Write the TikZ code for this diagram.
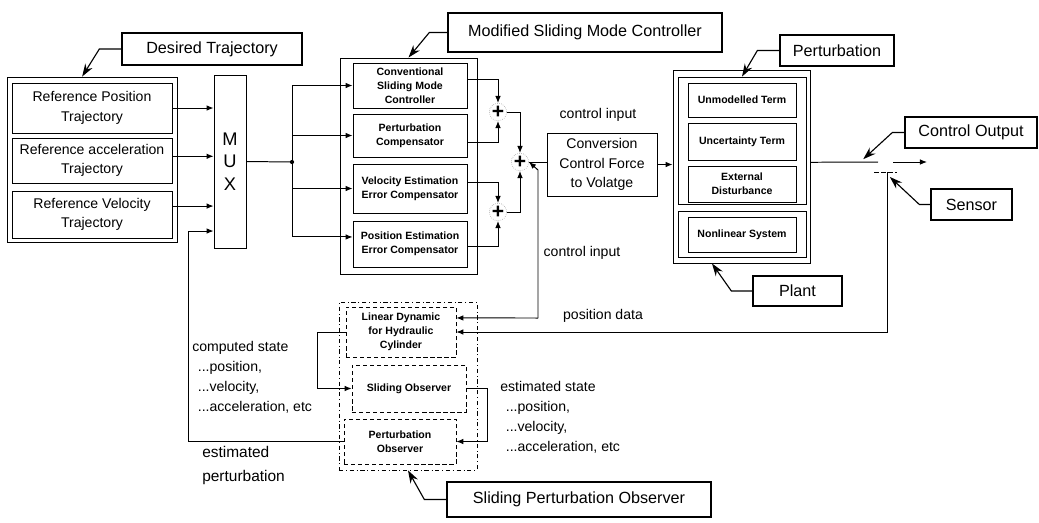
\documentclass[tikz,border=0pt]{standalone}
\usepackage{fontspec}
\setmainfont{Liberation Sans}
\usetikzlibrary{arrows.meta,positioning}

\tikzset{
  lbl/.style={draw, line width=0.9pt, inner sep=0pt, font=\fontsize{11.5}{13}\selectfont},
  blk/.style={draw, line width=0.6pt, inner sep=0pt, align=center, font=\fontsize{10}{13.9}\selectfont},
  sblk/.style={draw, line width=0.6pt, inner sep=0pt, align=center, font=\bfseries\fontsize{7.5}{10}\selectfont},
  grp/.style={draw, line width=0.6pt, inner sep=0pt},
  obs/.style={draw, densely dashed, line width=0.5pt, inner sep=0pt, align=center, font=\bfseries\fontsize{7.5}{10}\selectfont},
  sumc/.style={circle, draw=black!45, densely dotted, minimum size=0.36cm, inner sep=0pt, font=\bfseries\fontsize{15}{15}\selectfont},
  arr/.style={-{Latex[length=5pt,width=4pt]}, line width=0.7pt},
  callout/.style={-{Stealth[length=9pt,width=6pt]}, line width=0.8pt},
  txt/.style={inner sep=0pt, align=left, font=\fontsize{10}{14.2}\selectfont}
}

\begin{document}
\begin{tikzpicture}[x=0.025cm, y=-0.025cm]
  \useasboundingbox (0,0) rectangle (1039,522);

  % desired trajectory
  \node[grp, minimum width=4.25cm, minimum height=4.125cm] (refgrp) at (92,159.5) {};
  \node[blk, minimum width=4cm, minimum height=1.25cm] (refpos) at (92,108) {Reference Position\\Trajectory};
  \node[blk, minimum width=4cm, minimum height=1.125cm] (refacc) at (92,160.5) {Reference acceleration\\Trajectory};
  \node[blk, minimum width=4cm, minimum height=1.175cm] (refvel) at (92,214.5) {Reference Velocity\\Trajectory};
  \node[lbl, minimum width=4.5cm, minimum height=0.8cm] (dtlbl) at (212,49) {Desired Trajectory};
  \draw[callout] (dtlbl.west) -- ++(-22,0) -- ([xshift=-7pt]refgrp.north);

  \node[blk, minimum width=0.8cm, minimum height=4.325cm, font=\fontsize{13}{16}\selectfont] (mux) at (230,161.5) {M\\U\\X};
  \draw[arr] (refpos.east) -- (refpos.east -| mux.west);
  \draw[arr] ([yshift=3pt]refacc.east) -- ([yshift=3pt]refacc.east -| mux.west);
  \draw[arr] ([yshift=6pt]refvel.east) -- ([yshift=6pt]refvel.east -| mux.west);

  % modified sliding mode controller
  \node[grp, minimum width=3.425cm, minimum height=5.4cm] (smcgrp) at (408.5,166) {};
  \node[sblk, minimum width=2.85cm, minimum height=1.125cm] (convsmc) at (410,85.5) {Conventional\\Sliding Mode\\Controller};
  \node[sblk, minimum width=2.85cm, minimum height=1.075cm] (percomp) at (410,135.5) {Perturbation\\Compensator};
  \node[sblk, minimum width=2.85cm, minimum height=1.225cm] (velcomp) at (410,188.5) {Velocity Estimation\\Error Compensator};
  \node[sblk, minimum width=2.85cm, minimum height=1.15cm] (poscomp) at (410,244) {Position Estimation\\Error Compensator};
  \node[lbl, minimum width=6.85cm, minimum height=0.975cm] (smclbl) at (585,32.5) {Modified Sliding Mode Controller};
  \draw[callout] (smclbl.west) -- ++(-18,0) -- (smcgrp.north);

  \coordinate (split) at (292,162);
  \draw[line width=0.7pt] (mux.east) -- (split);
  \fill (split) circle (1.5pt);
  \draw[line width=0.7pt] (split |- convsmc.west) -- ([yshift=5pt]split |- poscomp.west);
  \foreach \b in {convsmc, percomp, velcomp}
    \draw[arr] (split |- \b.west) -- (\b.west);
  \draw[arr] ([yshift=5pt]split |- poscomp.west) -- ([yshift=5pt]poscomp.west);

  \node[sumc] (sum1) at (498,112) {+};
  \node[sumc] (sum2) at (520,162) {+};
  \node[sumc] (sum3) at (498,212) {+};
  \draw[arr] ([yshift=4pt]convsmc.east) -| (sum1.north);
  \draw[arr] ([yshift=-5pt]percomp.east) -| (sum1.south);
  \draw[arr] (sum1.east) -| (sum2.north);
  \draw[arr] ([yshift=4.5pt]velcomp.east) -| (sum3.north);
  \draw[arr] ([yshift=-2pt]poscomp.east) -| (sum3.south);
  \draw[arr] (sum3.east) -| (sum2.south);

  % conversion and plant
  \node[blk, minimum width=2.75cm, minimum height=1.575cm] (conv) at (602,164.5) {Conversion\\Control Force\\to Volatge};
  \draw[line width=0.7pt] (sum2.east) -- (sum2.east -| conv.west);
  \node[txt] (cinlbl) at (598,115) {control input};

  \node[grp, minimum width=3.425cm, minimum height=4.825cm] (plant) at (741.5,166.5) {};
  \node[grp, minimum width=3.2cm, minimum height=3.175cm] (pertgrp) at (742,140.5) {};
  \node[sblk, minimum width=2.7cm, minimum height=0.85cm] (unmod) at (742,100) {Unmodelled Term};
  \node[sblk, minimum width=2.7cm, minimum height=0.925cm] (uncert) at (742,141.5) {Uncertainty Term};
  \node[sblk, minimum width=2.7cm, minimum height=0.9cm] (extdist) at (742,184) {External\\Disturbance};
  \node[grp, minimum width=3.2cm, minimum height=1.15cm] (nlgrp) at (742,234) {};
  \node[sblk, minimum width=2.7cm, minimum height=0.875cm] (nonlin) at (742,234.5) {Nonlinear System};
  \draw[arr] (conv.east) -- (conv.east -| plant.west);

  \node[lbl, minimum width=2.85cm, minimum height=0.775cm] (pertlbl) at (837,50.5) {Perturbation};
  \draw[callout] (pertlbl.west) -- ++(-22,0) -- (pertgrp.north);
  \node[lbl, minimum width=2.225cm, minimum height=0.75cm] (plantlbl) at (797.5,291) {Plant};
  \draw[callout] (plantlbl.west) -- ++(-21,0) -- ([xshift=-21pt]plant.south);

  % output and sensor
  \coordinate (outgap) at (878,162);
  \coordinate (outres) at (893,162);
  \coordinate (outend) at (927,162);
  \coordinate (sens) at (887,172);
  \draw[line width=0.7pt] ([yshift=3pt]plant.east) -- (outgap);
  \draw[arr] (outres) -- (outend);
  \draw[densely dashed, line width=0.5pt] ([xshift=-9pt]sens) -- ([xshift=7pt]sens);

  \node[lbl, minimum width=3.3cm, minimum height=0.775cm] (colbl) at (971,132.5) {Control Output};
  \draw[callout] (colbl.west) -- ++(-12,0) -- ([xshift=-10.5pt,yshift=2pt]outgap);
  \node[lbl, minimum width=2.025cm, minimum height=0.775cm] (senlbl) at (971.5,204.5) {Sensor};
  \draw[callout] (senlbl.west) -- ++(-11,0) -- ([xshift=2pt,yshift=-3.5pt]sens);

  % sliding perturbation observer
  \node[grp, dash dot, line width=0.5pt, minimum width=3.45cm, minimum height=4.2cm] (spo) at (408,386) {};
  \node[obs, minimum width=2.75cm, minimum height=1.25cm] (lindyn) at (401,332) {Linear Dynamic\\for Hydraulic\\Cylinder};
  \node[obs, minimum width=2.85cm, minimum height=1.175cm] (slobs) at (409,388.5) {Sliding Observer};
  \node[obs, minimum width=2.8cm, minimum height=1.125cm] (pobs) at (400,441.5) {Perturbation\\Observer};
  \node[lbl, minimum width=6.6cm, minimum height=0.875cm] (spolbl) at (579,499.5) {Sliding Perturbation Observer};
  \draw[callout] (spolbl.west) -- ++(-22,0) -- (spo.south);

  \draw[arr] (sens) |- (lindyn.east);
  \coordinate (ctrlin) at (538,318);
  \draw[arr] (ctrlin) -- ++(0,-148) -- (sum2.east);
  \draw[arr] (ctrlin) -- ([yshift=10pt]lindyn.east);
  \draw[arr] (lindyn.west) -- ++(-28,0) |- (slobs.west);
  \draw[arr] (slobs.east) -- ++(21,0) |- (pobs.east);
  \coordinate (fbx) at (188,231);
  \draw[arr] (pobs.west) -| (fbx) -- (fbx -| mux.west);

  % signal texts
  \node[txt] (cin2lbl) at (582,253) {control input};
  \node[txt] (poslbl) at (603,316) {position data};
  \node[txt, anchor=north west] (cslbl) at (192,341) {computed state\\\hspace*{4pt}...position,\\\hspace*{4pt}...velocity,\\\hspace*{4pt}...acceleration, etc};
  \node[txt, anchor=north west] (eslbl) at (500,381) {estimated state\\\hspace*{4pt}...position,\\\hspace*{4pt}...velocity,\\\hspace*{4pt}...acceleration, etc};
  \node[txt, anchor=north west, font=\fontsize{11}{17}\selectfont] (eplbl) at (202,446) {estimated\\perturbation};
\end{tikzpicture}
\end{document}
